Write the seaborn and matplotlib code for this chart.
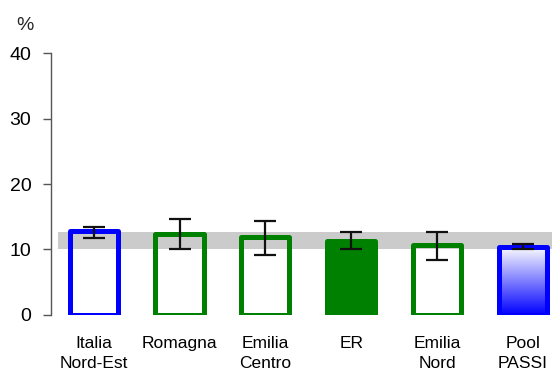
import matplotlib
matplotlib.use("Agg")
import matplotlib.pyplot as plt
import numpy as np
import pandas as pd
import seaborn as sns
from matplotlib.colors import LinearSegmentedColormap

## data
categories = ["Italia\nNord-Est", "Romagna", "Emilia\nCentro", "ER", "Emilia\nNord", "Pool\nPASSI"]
values = [12.8, 12.4, 11.9, 11.3, 10.7, 10.4]
err_low = [11.8, 10.0, 9.2, 10.0, 8.4, 10.0]
err_high = [13.5, 14.7, 14.4, 12.7, 12.7, 10.8]
band_low, band_high = 10.1, 12.7   # ER confidence band

edge_colors = ["#0000ff", "#008000", "#008000", "#008000", "#008000", "#0000ff"]
face_colors = ["none", "none", "none", "#008000", "none", "none"]

sns.set_theme(style="white")
plt.rcParams["font.family"] = ["Liberation Sans", "DejaVu Sans"]

df = pd.DataFrame({"area": categories, "val": values})

fig = plt.figure(figsize=(5.52, 3.74), dpi=100)
ax = fig.add_axes([0.092, 0.158, 0.908, 0.70])

sns.barplot(data=df, x="area", y="val", width=0.56, ax=ax, color="white", zorder=2)
bars = ax.containers[0].patches
for p, ec, fc in zip(bars, edge_colors, face_colors):
    p.set_facecolor(fc)
    p.set_edgecolor(ec)
    p.set_linewidth(3.6)
    p.set_joinstyle("round")

#grey band for the regional interval
ax.axhspan(band_low, band_high, xmin=0.014, xmax=1, color="#c6c6c6", alpha=0.9, zorder=0, lw=0)

#gradient for pool passi bar
last = bars[-1]
x0, y0 = last.get_x(), last.get_y()
w, h = last.get_width(), last.get_height()
grad = np.linspace(0, 1, 256).reshape(-1, 1)
cmap = LinearSegmentedColormap.from_list("wb", ["#0000ff", "#ffffff"])
im = ax.imshow(grad, extent=[x0, x0 + w, y0, y0 + h], origin="lower", aspect="auto", cmap=cmap, zorder=1.5)
im.set_clip_path(last)

xs = np.arange(len(categories))
mid = [(a + b) / 2 for a, b in zip(err_low, err_high)]
half = [(b - a) / 2 for a, b in zip(err_low, err_high)]
ax.errorbar(xs, mid, yerr=half, fmt="none", ecolor="#111111", elinewidth=1.6, capsize=8, capthick=1.6, zorder=4)

ax.set_xlim(-0.5, 5.34)
ax.set_ylim(0, 40)
ax.set_yticks([0, 10, 20, 30, 40])
ax.set_xlabel("")
ax.set_ylabel("")
sns.despine(ax=ax, bottom=True)
ax.spines["left"].set_color("#555555")
ax.spines["left"].set_linewidth(1.0)
ax.tick_params(axis="y", left=True, length=6, width=1, color="#555555", pad=8, labelsize=14, labelcolor="black")
ax.tick_params(axis="x", bottom=False, length=0, pad=15, labelsize=12.5, labelcolor="black")
for t in ax.get_xticklabels():
    t.set_linespacing(1.4)
fig.text(25 / 552, 1 - 25 / 374, "%", ha="center", va="center", fontsize=14)

fig.savefig("out.png", dpi=100)
